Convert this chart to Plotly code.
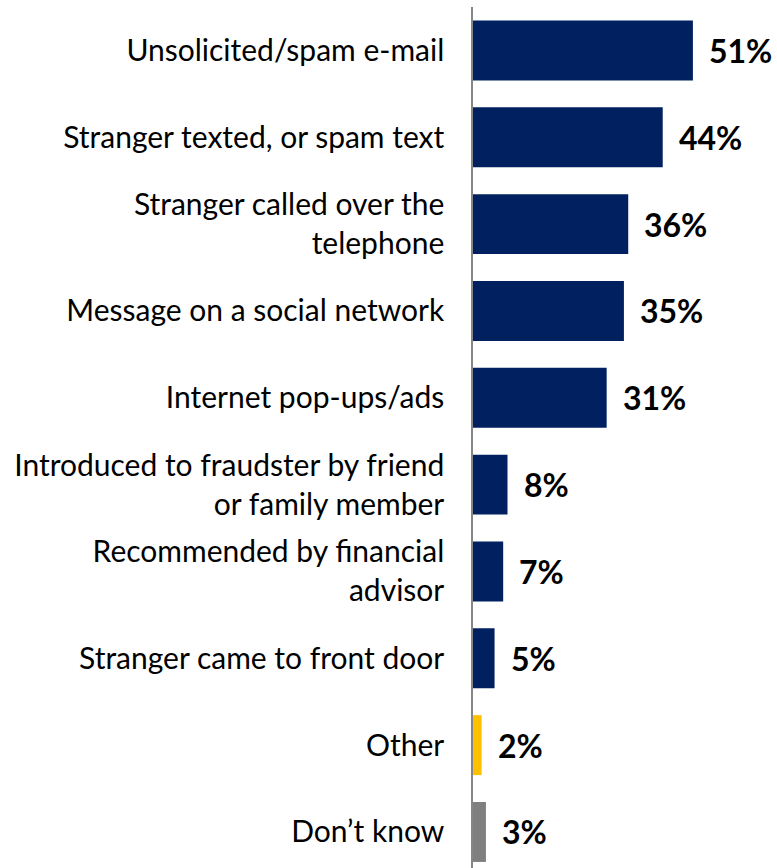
import plotly.graph_objects as go

# Where the contact came from (share of respondents, %)
categories = [
    "Unsolicited/spam e-mail",
    "Stranger texted, or spam text",
    "Stranger called over the<br>telephone",
    "Message on a social network",
    "Internet pop-ups/ads",
    "Introduced to fraudster by friend<br>or family member",
    "Recommended by financial<br>advisor",
    "Stranger came to front door",
    "Other",
    "Don\u2019t know",
]
values = [51, 44, 36, 35, 31, 8, 7, 5, 2, 3]
value_labels = [f"{v}%" for v in values]

NAVY = "#002060"
colors = [NAVY] * 8 + ["#FFC000", "#7F7F7F"]

FONT = "Lato"

fig = go.Figure(
    go.Bar(
        x=values,
        y=categories,
        orientation="h",
        marker=dict(color=colors, line=dict(width=0)),
        hoverinfo="skip",
    )
)

# Bold percentage labels just past each bar end
for cat, v, lab in zip(categories, values, value_labels):
    fig.add_annotation(
        x=v, y=cat, text=f"<b>{lab}</b>", showarrow=False,
        xanchor="left", yanchor="middle", xshift=14,
        font=dict(family=FONT, size=32, color="#000000"),
    )

fig.update_layout(
    width=777,
    height=868,
    margin=dict(l=473, r=0, t=7, b=0),
    paper_bgcolor="white",
    plot_bgcolor="white",
    bargap=0.31,
    showlegend=False,
    font=dict(family=FONT, color="#000000"),
)

fig.update_xaxes(
    range=[0, 70.5],
    visible=False,
    showgrid=False,
    zeroline=False,
)

fig.update_yaxes(
    categoryorder="array",
    categoryarray=categories,
    range=[9.415, -0.5],
    showline=True,
    linecolor="#868686",
    linewidth=1.5,
    showgrid=False,
    zeroline=False,
    ticks="",
    ticklabelstandoff=21,
    tickfont=dict(family=FONT, size=30, color="#000000"),
)

fig.write_html("out.html")
